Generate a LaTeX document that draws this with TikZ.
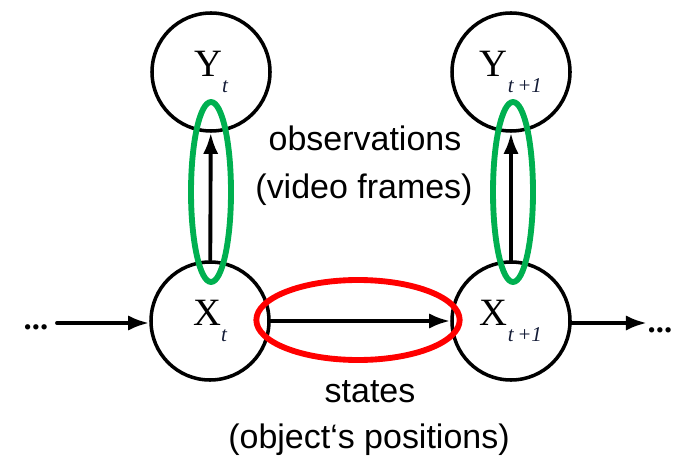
\documentclass[tikz,border=0pt]{standalone}
\usepackage{fontspec}
\setmainfont{Liberation Serif}
\newfontfamily\labelfont{Liberation Sans}
\usetikzlibrary{arrows.meta,shapes.geometric}
\definecolor{ringgreen}{RGB}{0,176,80}
\definecolor{subblue}{RGB}{20,28,55}
\newcommand\lowsub[1]{\raisebox{-0.42em}{\fontsize{18}{18}\selectfont\itshape\color{subblue}#1}}
\begin{document}
\begin{tikzpicture}[x=0.03cm,y=-0.03cm,line cap=round,line join=round,
  var/.style={draw,circle,line width=3pt,minimum size=3.54cm,inner sep=0pt,font=\fontsize{33}{33}\selectfont},
  arr/.style={line width=3.3pt,-{Latex[length=18pt,width=13pt]}},
  ring/.style={draw=ringgreen,ellipse,line width=5pt,minimum width=1.2cm,minimum height=5.4cm,inner sep=0pt},
  redring/.style={draw=red,ellipse,line width=5pt,minimum width=6.1cm,minimum height=2.4cm,inner sep=0pt},
  txt/.style={font=\labelfont\fontsize{29}{29}\selectfont},
  dots/.style={font=\bfseries\fontsize{28}{28}\selectfont}]
\useasboundingbox (0,0) rectangle (677,457);
% hidden variables and observations
\node[var] (yt) at (211,72) {Y\lowsub{t}};\node[var] (yt1) at (511,72) {Y\lowsub{t\,+1}};
\node[var] (xt) at (210,321) {X\lowsub{t}};\node[var] (xt1) at (511,321) {X\lowsub{t\,+1}};
\node[dots] (ldots) at (36,327) {...};\node[dots] (rdots) at (660,330) {...};
\coordinate (lin) at (57,323);\coordinate (rout) at (647,323);
\draw[arr] (xt) -- (yt);\draw[arr] (xt1) -- (yt1);
\draw[arr] (xt) -- (xt1);\draw[arr] (lin) -- (lin-|xt.west);\draw[arr] (xt1.east|-rout) -- (rout);
% highlights
\node[ring] (obsl) at (211,192) {};\node[ring] (obsr) at (513,192) {};
\node[redring] (trans) at (358,320) {};
\node[txt] (obs) at (365,138) {observations};\node[txt] (vid) at (364,190) {(video frames)};
\node[txt] (st) at (370,392) {states};\node[txt] (pos) at (369,440) {(object‘s positions)};
\end{tikzpicture}
\end{document}
